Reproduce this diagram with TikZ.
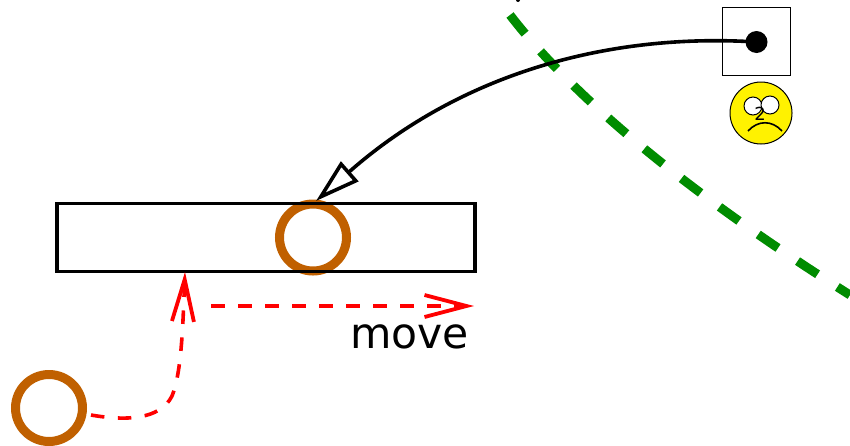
\documentclass[tikz,border=0pt]{standalone}
\usepackage{fontspec}
\setmainfont{DejaVu Sans}
\usetikzlibrary{arrows.meta}
\definecolor{ringbrown}{HTML}{C06000}
\definecolor{cutgreen}{HTML}{008C00}
\tikzset{
  ring/.style={circle,draw=ringbrown,line width=9pt,minimum size=67pt,inner sep=0pt,outer sep=0pt},
  redarrow/.style={draw=red,line width=3.6pt,dash pattern=on 13.5pt off 13.5pt,
    -{Straight Barb[length=42pt,width=22pt,line width=3.8pt]}},
  eye/.style={circle,draw=black,fill=white,line width=1pt,minimum size=18pt,inner sep=0pt},
}
\begin{document}
\begin{tikzpicture}[x=1pt,y=-1pt]
\useasboundingbox (0,0) rectangle (850,445);
% green dashed line
\coordinate (g0) at (510,15);
\coordinate (g1) at (850,295);
\draw[cutgreen,line width=9pt,dash pattern=on 24pt off 23.5pt] (g0) .. controls (585,112) and (715,210) .. (g1);
% rings below the box outline
\node[ring] (ringA) at (313,237.5) {};
\node[draw=black,line width=3.6pt,minimum width=418pt,minimum height=68pt,inner sep=0pt,outer sep=0pt] (bar) at (266,237.5) {};
\node[ring] (ringB) at (49,408) {};
% square with dot
\node[draw=black,line width=1.8pt,minimum size=68pt,inner sep=0pt,outer sep=0pt] (square) at (756.5,41.5) {};
\node[circle,fill=black,minimum size=22pt,inner sep=0pt] (dot) at (756.5,42) {};
% smiley
\node[circle,draw=black,fill=yellow,line width=1pt,minimum size=62pt,inner sep=0pt] (face) at (761,113) {};
\node[eye] (eyeL) at (753,106) {};
\node[eye] (eyeR) at (770,105) {};
\node[font=\fontsize{18}{18}\selectfont,inner sep=0pt] (num) at (760,113.5) {2};
\coordinate (fl) at (748,131);
\coordinate (fr) at (782,131);
\draw[line width=1.6pt] (fl) .. controls (758,120) and (772,120) .. (fr);
% clipped stub at the top
\node[circle,fill=black,minimum size=4pt,inner sep=0pt] (stub) at (518,0) {};
% black arrow
\coordinate (tipA) at (316,201);
\draw[line width=3.6pt,-{Triangle[open,length=45pt,width=26pt,line width=3.6pt,fill=white]}] (dot.center) .. controls (615,33) and (465,70) .. (tipA);
% red arrows
\coordinate (startB) at (91,415);
\coordinate (tipB) at (185,272);
\draw[redarrow] (startB) .. controls (125,421) and (160,420) .. (172,396) .. controls (182,372) and (183,320) .. (tipB);
\coordinate (startC) at (211,306);
\coordinate (tipC) at (474,306);
\draw[redarrow] (startC) -- (tipC);
\node[font=\fontsize{42.5}{42.5}\selectfont,inner sep=0pt,anchor=base] (move) at (409.5,348) {move};
\end{tikzpicture}
\end{document}
